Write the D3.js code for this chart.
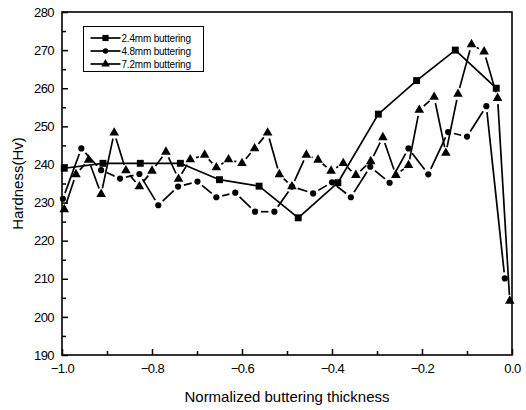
<!DOCTYPE html>
<html>
<head>
<meta charset="utf-8">
<script src="https://cdn.jsdelivr.net/npm/d3@7"></script>
<style>
  body { margin: 0; background: #fff; }
  svg text { font-family: "Liberation Sans", Arial, sans-serif; fill: #000; }
</style>
</head>
<body>
<div class="chart"></div>
<script>
// values
const x_ticks = [-1.0, -0.8, -0.6, -0.4, -0.2, 0.0];
const y_ticks = [190, 200, 210, 220, 230, 240, 250, 260, 270, 280];
const series_names = ['2.4mm buttering', '4.8mm buttering', '7.2mm buttering'];

const sq_x = [-0.995, -0.909, -0.826, -0.737, -0.650, -0.562, -0.475, -0.387, -0.297, -0.212, -0.126, -0.035];
const sq_y = [239, 240.3, 240.3, 240.3, 236, 234.3, 226, 235.2, 253.2, 262, 270, 260];

const ci_x = [-0.998, -0.957, -0.913, -0.871, -0.828, -0.786, -0.742, -0.699, -0.657, -0.615, -0.571, -0.528, -0.489, -0.442, -0.400, -0.358, -0.315, -0.272, -0.230, -0.186, -0.142, -0.100, -0.057, -0.016];
const ci_y = [231, 244.2, 238.5, 236.3, 237.5, 229.3, 234.2, 235.5, 231.4, 232.6, 227.6, 227.6, 234.2, 232.4, 235.3, 231.4, 239.4, 235.2, 244.2, 237.4, 248.5, 247.3, 255.3, 210.1];

const tr_x = [-0.995, -0.969, -0.941, -0.913, -0.884, -0.858, -0.828, -0.800, -0.769, -0.741, -0.715, -0.683, -0.657, -0.630, -0.600, -0.572, -0.543, -0.517, -0.489, -0.457, -0.431, -0.402, -0.375, -0.347, -0.314, -0.287, -0.258, -0.230, -0.206, -0.173, -0.147, -0.120, -0.090, -0.062, -0.032, -0.005];
const tr_y = [228.2, 237.4, 241.2, 232.2, 248.3, 238.4, 234.2, 238.3, 243.3, 236.2, 241.3, 242.5, 239.2, 241.3, 240.3, 244.2, 248.3, 237.4, 234.2, 242.5, 241.2, 238.3, 240.3, 237.2, 240.8, 247.1, 237.2, 239.8, 254.3, 257.7, 243, 258.5, 271.5, 269.6, 257.4, 204.2];

const W = 526, H = 410;
const margin = { top: 12, right: 14, bottom: 55, left: 62 };
const graph_w = W - margin.left - margin.right;
const graph_h = H - margin.top - margin.bottom;

const svg = d3.select('.chart').append('svg').attr('width', W).attr('height', H);
const graph = svg.append('g').attr('transform', `translate(${margin.left}, ${margin.top})`);

const x = d3.scaleLinear().domain([-1, 0]).range([0, graph_w]);
const y = d3.scaleLinear().domain([190, 280]).range([graph_h, 0]);

// ticks point inward, only on bottom and left
const x_axis = d3.axisBottom(x).tickValues(x_ticks).tickSize(-6).tickPadding(9).tickFormat(d3.format('.1f'));
const x_minor = d3.axisBottom(x).tickValues(d3.range(-0.9, 0, 0.2)).tickSize(-4).tickFormat('');
const y_axis = d3.axisLeft(y).tickValues(y_ticks).tickSize(-6).tickPadding(8).tickFormat(d3.format('d'));
const y_minor = d3.axisLeft(y).tickValues(d3.range(195, 280, 10)).tickSize(-4).tickFormat('');

const axis_groups = [
  graph.append('g').attr('transform', `translate(0, ${graph_h})`).call(x_axis),
  graph.append('g').attr('transform', `translate(0, ${graph_h})`).call(x_minor),
  graph.append('g').call(y_axis),
  graph.append('g').call(y_minor)
];
axis_groups.forEach(g => {
  g.select('.domain').remove();
  g.selectAll('line').attr('stroke', '#000').attr('stroke-width', 1.5);
  g.selectAll('text').attr('font-size', 13).attr('letter-spacing', -0.6);
});

// frame
graph.append('rect')
  .attr('width', graph_w).attr('height', graph_h)
  .attr('fill', 'none').attr('stroke', '#000').attr('stroke-width', 1.6);

// axis titles
svg.append('text')
  .attr('x', margin.left + graph_w / 2).attr('y', 402)
  .attr('text-anchor', 'middle').attr('font-size', 15)
  .text('Normalized buttering thickness');
svg.append('text')
  .attr('transform', `translate(23, ${margin.top + graph_h / 2}) rotate(-90)`)
  .attr('text-anchor', 'middle').attr('font-size', 15)
  .text('Hardness(Hv)');

const series = [
  { xs: sq_x, ys: sq_y, shape: d3.symbolSquare, size: 48, gap: 0 },
  { xs: ci_x, ys: ci_y, shape: d3.symbolCircle, size: 30, gap: 6 },
  { xs: tr_x, ys: tr_y, shape: d3.symbolTriangle, size: 40, gap: 6 }
];

// segments between points, cut short near markers where the original has gaps
function segments(s) {
  const out = [];
  for (let i = 0; i < s.xs.length - 1; i++) {
    const x1 = x(s.xs[i]), y1 = y(s.ys[i]), x2 = x(s.xs[i + 1]), y2 = y(s.ys[i + 1]);
    const len = Math.hypot(x2 - x1, y2 - y1);
    const g = Math.min(s.gap, len / 2 - 0.5);
    if (g < 0) continue;
    const ux = (x2 - x1) / len, uy = (y2 - y1) / len;
    out.push([x1 + ux * g, y1 + uy * g, x2 - ux * g, y2 - uy * g]);
  }
  return out;
}

series.forEach(s => {
  graph.append('g').selectAll('line')
    .data(segments(s))
    .enter().append('line')
    .attr('x1', d => d[0]).attr('y1', d => d[1])
    .attr('x2', d => d[2]).attr('y2', d => d[3])
    .attr('stroke', '#000').attr('stroke-width', 1.7);

  graph.append('g').selectAll('path')
    .data(s.xs.map((v, i) => [v, s.ys[i]]))
    .enter().append('path')
    .attr('transform', d => `translate(${x(d[0])}, ${y(d[1])})`)
    .attr('d', d3.symbol().type(s.shape).size(s.size))
    .attr('fill', '#000');
});

// legend
const legend = svg.append('g').attr('transform', 'translate(83.5, 26.5)');
legend.append('rect').attr('width', 120).attr('height', 45)
  .attr('fill', '#fff').attr('stroke', '#000').attr('stroke-width', 1);
series_names.forEach((name, i) => {
  const row = legend.append('g').attr('transform', `translate(0, ${11.5 + i * 13})`);
  row.append('line').attr('x1', 7).attr('x2', 37).attr('stroke', '#000').attr('stroke-width', 1.7);
  row.append('path').attr('transform', 'translate(22, 0)')
    .attr('d', d3.symbol().type(series[i].shape).size(series[i].size * 0.8))
    .attr('fill', '#000');
  row.append('text').attr('x', 38).attr('y', 3.5).attr('font-size', 10).attr('letter-spacing', -0.2).text(name);
});
</script>
</body>
</html>
